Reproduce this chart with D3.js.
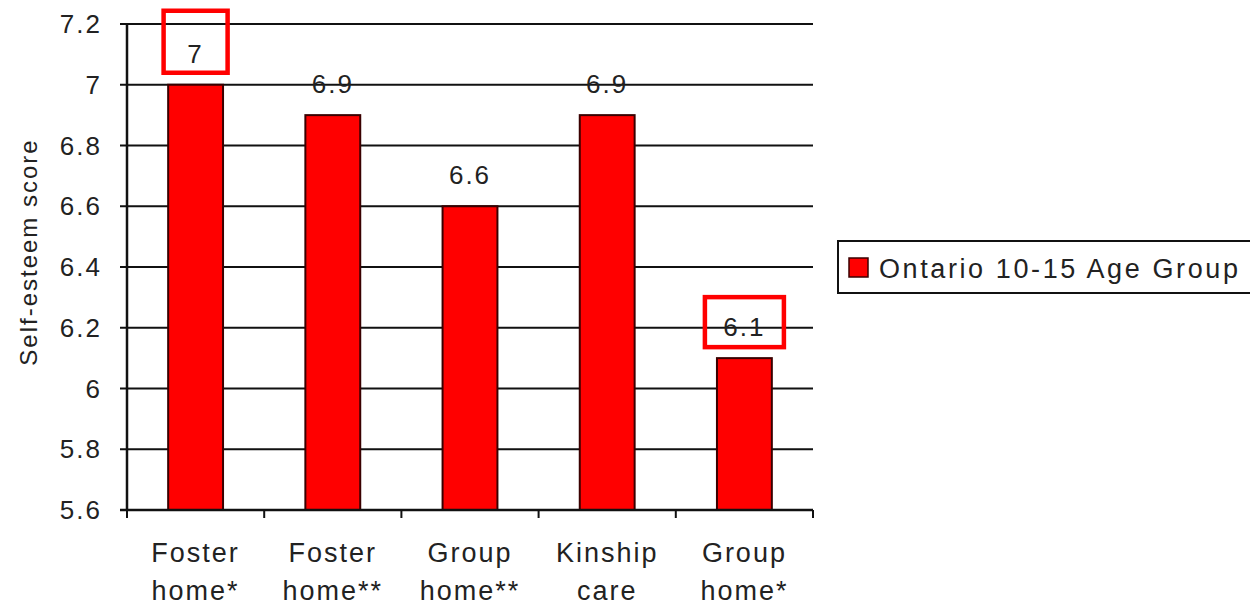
<!DOCTYPE html>
<html><head><meta charset="utf-8">
<script src="https://cdn.jsdelivr.net/npm/d3@7"></script>
<style>body{margin:0;background:#fff}svg{display:block}text{font-family:"Liberation Sans",Arial,sans-serif;fill:#222}</style>
</head><body>
<svg id="c" width="1250" height="608"></svg>
<script>
const categories = [["Foster","home*"],["Foster","home**"],["Group","home**"],["Kinship","care"],["Group","home*"]];
const values = [7.0, 6.9, 6.6, 6.9, 6.1];
const yTicks = [5.6,5.8,6.0,6.2,6.4,6.6,6.8,7.0,7.2];
const tickLabels = ["5.6","5.8","6","6.2","6.4","6.6","6.8","7","7.2"];
const valueLabels = ["7","6.9","6.6","6.9","6.1"];
const highlighted = [0, 4];
const seriesName = "Ontario 10-15 Age Group";

const svg = d3.select("#c");
const L = 127, R = 813, T = 24, B = 510;
const x = d3.scaleBand().domain(d3.range(categories.length)).range([L, R]).paddingInner(0.6).paddingOuter(0.3);
const xb = d3.scaleBand().domain(d3.range(categories.length)).range([L, R]);
const y = d3.scaleLinear().domain([5.6, 7.2]).range([B, T]);

// gridlines + ticks
svg.append("g").selectAll("line").data(yTicks).join("line")
  .attr("x1", L-7).attr("x2", R).attr("y1", d=>y(d)).attr("y2", d=>y(d))
  .attr("stroke","#111").attr("stroke-width",2);
svg.append("g").selectAll("text").data(yTicks).join("text")
  .attr("x", 102).attr("y", d=>y(d)+9).attr("text-anchor","end")
  .attr("font-size",26).attr("letter-spacing",2).text((d,i)=>tickLabels[i]);

// bars
svg.append("g").selectAll("rect").data(values).join("rect")
  .attr("x",(d,i)=>x(i)).attr("width",x.bandwidth())
  .attr("y",d=>y(d)).attr("height",d=>B-y(d))
  .attr("fill","#ff0000").attr("stroke","#3a0000").attr("stroke-width",2);

// axes lines
svg.append("line").attr("x1",L).attr("x2",L).attr("y1",T).attr("y2",B).attr("stroke","#111").attr("stroke-width",2.5);
svg.append("line").attr("x1",L-7).attr("x2",R).attr("y1",B).attr("y2",B).attr("stroke","#111").attr("stroke-width",2.5);
svg.append("g").selectAll("line").data(d3.range(categories.length+1)).join("line")
  .attr("x1",i=>L+i*xb.bandwidth()).attr("x2",i=>L+i*xb.bandwidth())
  .attr("y1",B).attr("y2",B+8).attr("stroke","#111").attr("stroke-width",2);

// category labels
const cl = svg.append("g").selectAll("text").data(categories).join("text")
  .attr("text-anchor","middle").attr("font-size",27).attr("letter-spacing",2);
cl.append("tspan").attr("x",(d,i)=>x(i)+x.bandwidth()/2).attr("y",562).text(d=>d[0]);
cl.append("tspan").attr("x",(d,i)=>x(i)+x.bandwidth()/2).attr("y",600).text(d=>d[1]);

// value labels
svg.append("g").selectAll("text").data(values).join("text")
  .attr("x",(d,i)=>x(i)+x.bandwidth()/2).attr("y",d=>y(d)-22)
  .attr("text-anchor","middle").attr("font-size",26).attr("letter-spacing",2).text((d,i)=>valueLabels[i]);

// highlight boxes
const boxW = {0:64, 4:79}, boxH = {0:62, 4:50}, boxUp = {0:74, 4:61};
svg.append("g").selectAll("rect").data(highlighted).join("rect")
  .attr("x",i=>x(i)+x.bandwidth()/2-boxW[i]/2).attr("width",i=>boxW[i])
  .attr("y",i=>y(values[i])-boxUp[i]).attr("height",i=>boxH[i])
  .attr("fill","none").attr("stroke","#ff0000").attr("stroke-width",4.5);

// y title
svg.append("text").attr("transform","translate(37,252) rotate(-90)").attr("text-anchor","middle")
  .attr("font-size",24).attr("letter-spacing",2).text("Self-esteem score");

// legend
const lg = svg.append("g");
lg.append("rect").attr("x",838).attr("y",241).attr("width",420).attr("height",52).attr("fill","#fff").attr("stroke","#111").attr("stroke-width",2);
lg.append("rect").attr("x",849).attr("y",258).attr("width",19).attr("height",19).attr("fill","#ff0000").attr("stroke","#3a0000").attr("stroke-width",1.5);
lg.append("text").attr("x",879).attr("y",278).attr("font-size",27).attr("letter-spacing",2.6).text(seriesName);
</script>
</body></html>
